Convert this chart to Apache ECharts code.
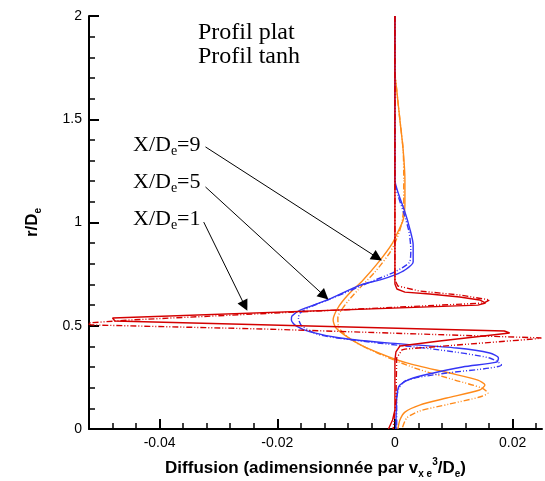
<!DOCTYPE html>
<html>
<head>
<meta charset="utf-8">
<script src="https://cdn.jsdelivr.net/npm/echarts@6/dist/echarts.min.js"></script>
<style>
  html, body { margin: 0; padding: 0; background: #fff; }
  #main { width: 545px; height: 481px; }
</style>
</head>
<body>
<div id="main"></div>
<script>
// 数据: [diffusion, r/De]
var seriesNames = ['Profil plat', 'Profil tanh'];
var stationLabels = ['9', '5', '1'];

// X/De=1 (rouge)
var red_plat = [
  [0, 2.0], [0, 0.702], [0.00034, 0.678], [0.0017, 0.663], [0.0059, 0.654], [0.0110, 0.639],
  [0.0144, 0.625], [0.0154, 0.610], [0.0141, 0.600], [-0.0480, 0.5375], [-0.0476, 0.523],
  [0.0186, 0.4746], [0.0195, 0.465], [0.0195, 0.460], [0.0076, 0.426], [0.00085, 0.402],
  [0.00017, 0.373], [0, 0.334], [0, 0.092], [-0.0004, 0.044], [-0.0011, 0]
];
var red_tanh = [
  [0, 2.0], [0, 0.7215], [0.0005, 0.6925], [0.0042, 0.668], [0.0110, 0.649], [0.0161, 0.625],
  [0.0151, 0.610], [-0.0449, 0.528], [-0.0524, 0.513], [-0.0517, 0.504], [-0.0220, 0.484],
  [0.0249, 0.441], [0.0237, 0.436], [0.0017, 0.387], [0.0012, 0.383], [0.0003, 0.344],
  [0.00017, 0.140], [-0.0003, 0]
];

// X/De=5 (bleu)
var blue_plat = [
  [0, 2.0], [0, 1.206], [0.00068, 1.133], [0.0017, 1.051], [0.0025, 0.973], [0.0031, 0.891],
  [0.0031, 0.809], [0.0017, 0.770], [0, 0.746], [-0.0025, 0.722], [-0.0059, 0.697],
  [-0.0115, 0.625], [-0.0161, 0.576], [-0.0175, 0.547], [-0.0176, 0.528], [-0.0168, 0.499],
  [-0.0144, 0.470], [-0.0093, 0.441], [-0.0008, 0.416], [0.0105, 0.392], [0.0161, 0.368],
  [0.0176, 0.344], [0.0173, 0.324], [0.0115, 0.300], [0.0031, 0.247], [0.00085, 0.213],
  [0.00034, 0.165], [0.00017, 0]
];
var blue_tanh = [
  [0, 2.0], [0, 1.196], [0.0005, 1.133], [0.0015, 1.046], [0.0024, 0.954], [0.0027, 0.867],
  [0.0025, 0.809], [0.0012, 0.780], [-0.0008, 0.751], [-0.0042, 0.712], [-0.0102, 0.639],
  [-0.0144, 0.591], [-0.0161, 0.562], [-0.0164, 0.538], [-0.0158, 0.499], [-0.0127, 0.455],
  [-0.0042, 0.421], [0.0076, 0.383], [0.0161, 0.344], [0.0181, 0.310], [0.0161, 0.295],
  [0.0088, 0.271], [0.0020, 0.237], [0.0007, 0.199], [0.0003, 0.140], [0.0003, 0]
];

// X/De=9 (orange)
var orange_plat = [
  [0, 2.0], [0, 1.729], [0.0003, 1.642], [0.00085, 1.496], [0.0014, 1.351], [0.0017, 1.206],
  [0.0017, 1.085], [0.0014, 1.012], [0.0005, 0.954], [-0.0005, 0.896], [-0.0025, 0.818],
  [-0.0054, 0.722], [-0.0080, 0.649], [-0.0097, 0.586], [-0.0105, 0.528], [-0.0100, 0.489],
  [-0.0081, 0.446], [-0.0051, 0.397], [0.0020, 0.320], [0.0093, 0.271], [0.0141, 0.237],
  [0.0153, 0.213], [0.0144, 0.189], [0.0088, 0.150], [0.0042, 0.116], [0.0017, 0.082],
  [0.00085, 0.044], [0.0005, 0]
];
var orange_tanh = [
  [0, 2.0], [0, 1.738], [0.0003, 1.642], [0.00085, 1.496], [0.0014, 1.351], [0.0015, 1.206],
  [0.0015, 1.085], [0.0012, 1.002], [0.0005, 0.935], [-0.0008, 0.857], [-0.0034, 0.760],
  [-0.0063, 0.673], [-0.0085, 0.600], [-0.0097, 0.538], [-0.0095, 0.489], [-0.0073, 0.431],
  [-0.0034, 0.373], [0.0034, 0.295], [0.0102, 0.237], [0.0147, 0.199], [0.0158, 0.174],
  [0.0144, 0.155], [0.0093, 0.121], [0.0042, 0.087], [0.0020, 0.053], [0.0012, 0]
];

// 刻度
var xMajorTicks = [-0.04, -0.02, 0, 0.02];
var xMinorTicks = [-0.048, -0.044, -0.036, -0.032, -0.028, -0.024, -0.016, -0.012, -0.008,
  -0.004, 0.004, 0.008, 0.012, 0.016, 0.024];

// flèches: [texte -> courbe]
var arrows = [
  [[-0.0322, 1.366], [-0.0030, 0.830]],
  [[-0.0322, 1.172], [-0.0120, 0.645]],
  [[-0.0325, 1.002], [-0.0255, 0.596]]
];

var chart = echarts.init(document.getElementById('main'));

var sansFont = '"Liberation Sans", Arial, Helvetica, sans-serif';
var serifFont = '"Liberation Serif", "Times New Roman", serif';
var dashDot = [6, 2, 1, 2, 1, 2];

function makeLine(name, data, color, dashed, smooth) {
  return {
    name: name,
    type: 'line',
    data: data,
    showSymbol: false,
    symbol: 'none',
    smooth: smooth,
    clip: false,
    xAxisIndex: 0,
    yAxisIndex: 0,
    lineStyle: { color: color, width: 1.4, type: dashed ? dashDot : 'solid' },
    itemStyle: { color: color }
  };
}

// rouge dessiné en dernier (au-dessus)
var series = [
  makeLine(seriesNames[0], orange_plat, '#ff8a1a', false, 0.25),
  makeLine(seriesNames[1], orange_tanh, '#ff8a1a', true, 0.25),
  makeLine(seriesNames[0], blue_plat, '#3535f5', false, 0.25),
  makeLine(seriesNames[1], blue_tanh, '#3535f5', true, 0.25),
  makeLine(seriesNames[0], red_plat, '#d40000', false, false),
  makeLine(seriesNames[1], red_tanh, '#d40000', true, false)
];

// flèches noires
series[5].markLine = {
  silent: true,
  animation: false,
  symbol: ['none', 'triangle'],
  symbolSize: 11,
  lineStyle: { color: '#000', width: 1, type: 'solid' },
  label: { show: false },
  data: arrows.map(function (a) {
    return [{ coord: a[0] }, { coord: a[1] }];
  })
};

var option = {
  animation: false,
  backgroundColor: '#fff',
  grid: { left: 89, right: 3, top: 16, bottom: 52, containLabel: false, outerBoundsMode: 'none' },
  legend: {
    data: seriesNames,
    orient: 'vertical',
    left: 188,
    top: 16,
    icon: 'none',
    itemWidth: 0,
    itemGap: 0,
    selectedMode: false,
    textStyle: { fontFamily: serifFont, fontSize: 24, color: '#000', lineHeight: 24 }
  },
  xAxis: [
    {
      type: 'value',
      min: -0.052,
      max: 0.025,
      position: 'bottom',
      axisLine: { onZero: false, lineStyle: { color: '#000', width: 2 } },
      axisTick: { inside: true, length: 6, customValues: xMinorTicks, lineStyle: { color: '#000', width: 1.5 } },
      axisLabel: { show: false },
      splitLine: { show: false },
      name: 'Diffusion (adimensionnée par v{sub|x e}{sup|3}/D{sub|e})',
      nameLocation: 'middle',
      nameGap: 28,
      nameTextStyle: {
        fontFamily: sansFont, fontWeight: 'bold', fontSize: 17, color: '#000', lineHeight: 22,
        rich: {
          sub: { fontFamily: sansFont, fontWeight: 'bold', fontSize: 10, verticalAlign: 'bottom', lineHeight: 22 },
          sup: { fontFamily: sansFont, fontWeight: 'bold', fontSize: 10, verticalAlign: 'top', lineHeight: 22 }
        }
      }
    },
    {
      type: 'value',
      min: -0.052,
      max: 0.025,
      position: 'bottom',
      axisLine: { show: false, onZero: false },
      axisTick: { inside: true, length: 10, customValues: xMajorTicks, lineStyle: { color: '#000', width: 2 } },
      axisLabel: { customValues: xMajorTicks, fontFamily: sansFont, fontSize: 14, color: '#000', margin: 7 },
      splitLine: { show: false }
    }
  ],
  yAxis: {
    type: 'value',
    min: 0,
    max: 2,
    interval: 0.5,
    axisLine: { onZero: false, lineStyle: { color: '#000', width: 2 } },
    axisTick: { inside: true, length: 10, lineStyle: { color: '#000', width: 2 } },
    minorTick: { show: true, splitNumber: 5, length: 6, lineStyle: { color: '#000', width: 1.5 } },
    axisLabel: { fontFamily: sansFont, fontSize: 14, color: '#000', margin: 7 },
    splitLine: { show: false },
    minorSplitLine: { show: false },
    name: 'r/D{sub|e}',
    nameLocation: 'middle',
    nameGap: 46,
    nameTextStyle: {
      fontFamily: sansFont, fontWeight: 'bold', fontSize: 17, color: '#000', lineHeight: 22,
      rich: {
        sub: { fontFamily: sansFont, fontWeight: 'bold', fontSize: 10, verticalAlign: 'bottom', lineHeight: 22 }
      }
    }
  },
  graphic: stationLabels.map(function (s, i) {
    return {
      type: 'text',
      left: 133,
      top: 134 + i * 37,
      silent: true,
      style: {
        text: 'X/D{e|e}=' + s,
        font: '22px ' + serifFont,
        fill: '#000',
        rich: {
          e: { font: '14px ' + serifFont, verticalAlign: 'bottom', lineHeight: 26 }
        }
      }
    };
  }),
  series: series
};

chart.setOption(option);
</script>
</body>
</html>
